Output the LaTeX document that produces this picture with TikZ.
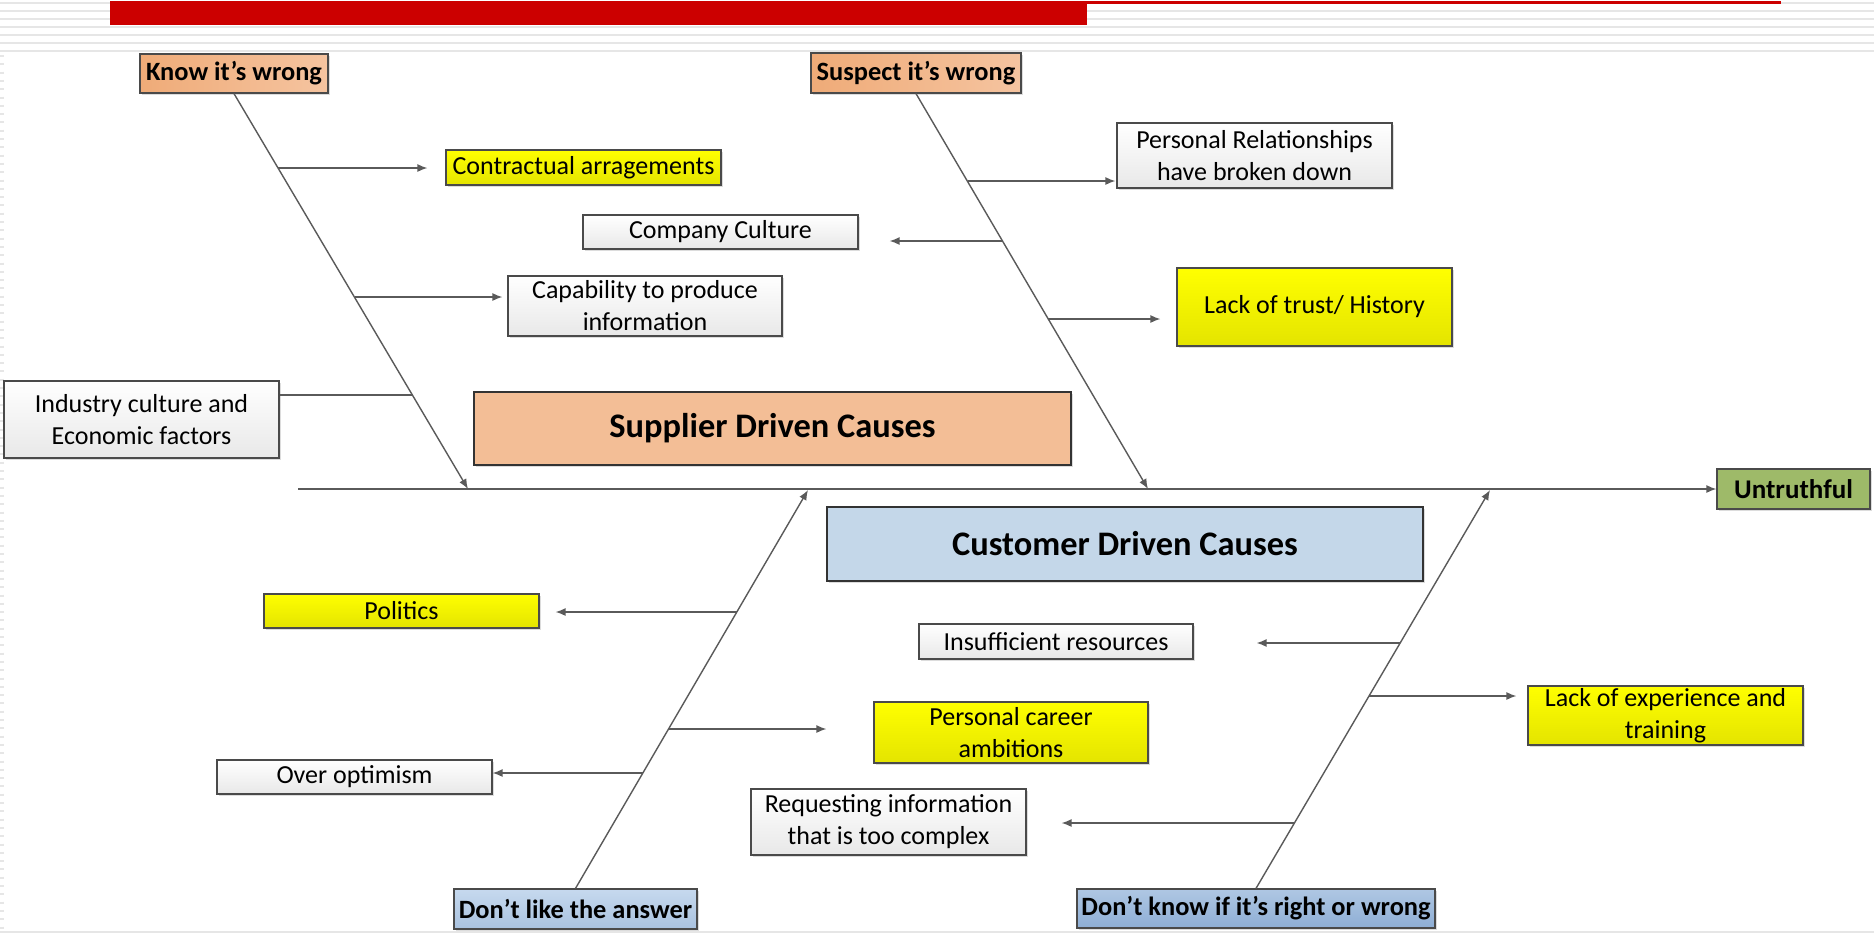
\documentclass[tikz,border=0pt]{standalone}
\usepackage{fontspec}
\setmainfont{Carlito}
\usetikzlibrary{arrows.meta,shadows}
\definecolor{boxborder}{HTML}{4A4A4A}
\definecolor{bonecol}{HTML}{5A5A5A}
\definecolor{orgA}{HTML}{EFAB78}
\definecolor{orgB}{HTML}{F5C4A0}
\definecolor{supfill}{HTML}{F3BE96}
\definecolor{cusfill}{HTML}{C4D7E9}
\definecolor{bluA}{HTML}{C6D9EE}
\definecolor{bluB}{HTML}{A9C2DF}
\definecolor{bluC}{HTML}{AFC7E3}
\definecolor{bluD}{HTML}{8EAED5}
\definecolor{grn}{HTML}{9EBA69}
\definecolor{ylwA}{HTML}{FFFF00}
\definecolor{ylwB}{HTML}{E4E400}
\definecolor{redbar}{HTML}{CC0000}
\definecolor{stripe}{HTML}{E6E6E6}
\begin{document}
\begin{tikzpicture}[x=0.5pt,y=-0.5pt,
  sz/.style 2 args={minimum width=#1*0.5pt, minimum height=#2*0.5pt},
  box/.style={draw=boxborder, line width=0.6pt, inner sep=0pt, align=center,
    font=\fontsize{13}{16}\selectfont,
    drop shadow={shadow xshift=1.2pt, shadow yshift=-1.2pt, fill=black!30, opacity=0.45}},
  wbox/.style={box, top color=white, bottom color=black!9},
  ybox/.style={box, top color=ylwA, bottom color=ylwB},
  obox/.style={box, left color=orgA, right color=orgB, font=\bfseries\fontsize{13.2}{16}\selectfont},
  dlbox/.style={box, top color=bluA, bottom color=bluB, font=\bfseries\fontsize{13.2}{16}\selectfont},
  dkbox/.style={box, top color=bluC, bottom color=bluD, font=\bfseries\fontsize{13.2}{16}\selectfont},
  gbox/.style={box, fill=grn, font=\bfseries\fontsize{13.5}{16}\selectfont},
  bigbox/.style={box, line width=0.8pt, draw=black!80, font=\bfseries\fontsize{17.2}{20}\selectfont},
  bone/.style={draw=bonecol, line width=0.7pt},
  arr/.style={bone, -{Latex[length=5pt,width=4pt]}}
]
\useasboundingbox (0,0) rectangle (1874,933);
\fill[white] (0,0) rectangle (1874,933);
% header stripes
\foreach \yy in {2.5,10.5,18.5,26.5,34.5,42.5,50.5}
  \draw[stripe, line width=1pt] (0,\yy) -- (1874,\yy);
\fill[redbar] (110,1) rectangle (1087,25);
\fill[redbar] (1087,1) rectangle (1781,3.5);
% left dashed edge and bottom line
\draw[stripe, line width=2pt, dash pattern=on 1pt off 3.15pt] (2,55) -- (2,930);
\draw[stripe, line width=1pt] (0,932) -- (1874,932);

% nodes
\node[obox, sz={188}{39}] (kw) at (234,73.5) {Know it’s wrong};
\node[obox, sz={210}{40}] (sw) at (916,73) {Suspect it’s wrong};
\node[ybox, sz={275}{35}] (ct) at (583.5,167.5) {Contractual arragements};
\node[wbox, sz={275}{34}] (cc) at (720.5,232) {Company Culture};
\node[wbox, sz={274}{60}] (cap) at (645,306) {Capability to produce\\information};
\node[wbox, sz={275}{77}] (ind) at (141.5,419.5) {Industry culture and\\Economic factors};
\node[bigbox, fill=supfill, sz={597}{73}] (sup) at (772.5,428.5) {Supplier Driven Causes};
\node[wbox, sz={275}{65}] (pr) at (1254.5,155.5) {Personal Relationships\\have broken down};
\node[ybox, sz={275}{78}] (lt) at (1314.5,307) {Lack of trust/ History};
\node[gbox, sz={153}{40}] (untr) at (1793.5,489) {Untruthful};
\node[bigbox, fill=cusfill, sz={596}{74}] (cus) at (1125,544) {Customer Driven Causes};
\node[ybox, sz={275}{34}] (pol) at (401.5,611) {Politics};
\node[wbox, sz={274}{35}] (ins) at (1056,641.5) {Insufficient resources};
\node[ybox, sz={274}{61}] (pc) at (1011,732.5) {Personal career\\ambitions};
\node[ybox, sz={275}{59}] (le) at (1665.5,715.5) {Lack of experience and\\training};
\node[wbox, sz={275}{34}] (oo) at (354.5,777) {Over optimism};
\node[wbox, sz={275}{66}] (req) at (888.5,822) {Requesting information\\that is too complex};
\node[dlbox, sz={243}{40}] (dl) at (575.5,909) {Don’t like the answer};
\node[dkbox, sz={358}{39}] (dk) at (1256,908.5) {Don’t know if it’s right or wrong};

% spine
\coordinate (sp0) at (298,489);
\draw[arr] (sp0) -- (untr.west);

% Know it's wrong bone
\coordinate (kwtip) at (468,489);
\draw[arr] (kw.south) -- (kwtip);
\coordinate (k1) at (278,168);
\coordinate (k2) at (354.6,297);
\coordinate (k3) at (412.5,395);
\draw[arr, shorten >=9pt] (k1) -- (k1 -| ct.west);
\draw[arr, shorten >=2.5pt] (k2) -- (k2 -| cap.west);
\draw[bone] (k3) -- (k3 -| ind.east);

% Suspect it's wrong bone
\coordinate (swtip) at (1148,489);
\draw[arr] (sw.south) -- (swtip);
\coordinate (s1) at (967.6,181);
\coordinate (s2) at (1002.7,241);
\coordinate (s3) at (1048.4,319);
\draw[arr, shorten >=0.5pt] (s1) -- (s1 -| pr.west);
\draw[arr, shorten >=15.5pt] (s2) -- (s2 -| cc.east);
\draw[arr, shorten >=8pt] (s3) -- (s3 -| lt.west);

% Don't like the answer bone
\coordinate (dltip) at (808,490);
\draw[arr] (dl.north) -- (dltip);
\coordinate (a1) at (736.5,612);
\coordinate (a2) at (668.5,729);
\coordinate (a3) at (643,773);
\draw[arr, shorten >=8pt] (a1) -- (a1 -| pol.east);
\draw[arr, shorten >=23.5pt] (a2) -- (a2 -| pc.west);
\draw[arr] (a3) -- (a3 -| oo.east);

% Don't know bone
\coordinate (dktip) at (1490,490);
\draw[arr] (dk.north) -- (dktip);
\coordinate (b1) at (1400,643);
\coordinate (b2) at (1369,696);
\coordinate (b3) at (1295,823);
\draw[arr, shorten >=31.5pt] (b1) -- (b1 -| ins.east);
\draw[arr, shorten >=5.5pt] (b2) -- (b2 -| le.west);
\draw[arr, shorten >=17.5pt] (b3) -- (b3 -| req.east);
\end{tikzpicture}
\end{document}
